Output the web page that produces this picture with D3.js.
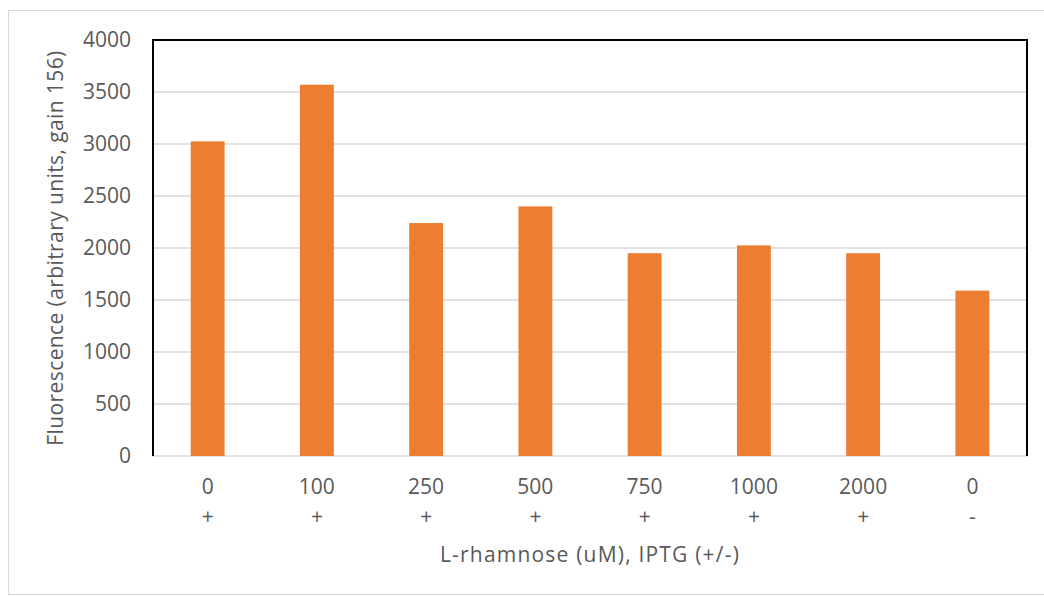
<!DOCTYPE html>
<html>
<head>
<meta charset="utf-8">
<script src="https://cdn.jsdelivr.net/npm/d3@7"></script>
<style>
  html, body { margin: 0; padding: 0; background: #fff; }
  svg text { font-family: "Open Sans", "Liberation Sans", sans-serif; fill: #595959; }
</style>
</head>
<body>
<svg id="chart" width="1044" height="596"></svg>
<script>
// Rhamnose concentration (uM) and IPTG presence for each culture
const rhamnose = ["0", "100", "250", "500", "750", "1000", "2000", "0"];
const iptg = ["+", "+", "+", "+", "+", "+", "+", "-"];
const fluorescence = [3025, 3570, 2240, 2400, 1950, 2025, 1950, 1590];
const yTicks = [0, 500, 1000, 1500, 2000, 2500, 3000, 3500, 4000];

const categories = rhamnose.map((r, i) => i);

const svg = d3.select("#chart");
const plot = { left: 153, right: 1027, top: 40, bottom: 456 };

// Outer chart border
svg.append("rect")
  .attr("x", 8.5).attr("y", 10.5)
  .attr("width", 1044).attr("height", 584)
  .attr("fill", "none").attr("stroke", "#d9d9d9").attr("stroke-width", 1);

const x = d3.scaleBand()
  .domain(categories)
  .range([plot.left, plot.right])
  .paddingInner(0.69)
  .paddingOuter(0.345);

const y = d3.scaleLinear()
  .domain([0, 4000])
  .range([plot.bottom, plot.top]);

// Horizontal gridlines
svg.append("g")
  .selectAll("line")
  .data(yTicks)
  .join("line")
  .attr("x1", plot.left).attr("x2", plot.right)
  .attr("y1", d => y(d)).attr("y2", d => y(d))
  .attr("stroke", "#d9d9d9").attr("stroke-width", 1.5);

// Bars
svg.append("g")
  .selectAll("rect")
  .data(fluorescence)
  .join("rect")
  .attr("x", (d, i) => x(i))
  .attr("width", x.bandwidth())
  .attr("y", d => y(d))
  .attr("height", d => y(0) - y(d))
  .attr("fill", "#ed7d31");

// Plot frame: top, left and right in black
svg.append("path")
  .attr("d", `M${plot.left},${plot.bottom} V${plot.top} H${plot.right} V${plot.bottom}`)
  .attr("fill", "none").attr("stroke", "#000").attr("stroke-width", 2);

// Y axis tick labels
const yAxis = d3.axisLeft(y).tickValues(yTicks).tickFormat(d3.format("d"))
  .tickSize(0).tickPadding(22);
const gy = svg.append("g").attr("transform", `translate(${plot.left},0)`).call(yAxis);
gy.select(".domain").remove();
gy.selectAll("text").attr("font-size", 21).attr("fill", "#595959")
  .style("font-family", "'Open Sans', sans-serif");

// X axis: two-line category labels
const xAxis = d3.axisBottom(x).tickSize(0).tickFormat(() => "");
const gx = svg.append("g").attr("transform", `translate(0,${plot.bottom})`).call(xAxis);
gx.select(".domain").remove();
gx.selectAll(".tick").each(function(d) {
  const t = d3.select(this);
  t.append("text").attr("y", 38).attr("text-anchor", "middle")
    .attr("font-size", 21).text(rhamnose[d]);
  t.append("text").attr("y", 68).attr("text-anchor", "middle")
    .attr("font-size", 21).text(iptg[d]);
});

// Axis titles
svg.append("text")
  .attr("x", (plot.left + plot.right) / 2).attr("y", 562)
  .attr("text-anchor", "middle").attr("font-size", 21)
  .attr("letter-spacing", 1.2)
  .text("L-rhamnose (uM), IPTG (+/-)");

svg.append("text")
  .attr("transform", `translate(63,${(plot.top + plot.bottom) / 2}) rotate(-90)`)
  .attr("text-anchor", "middle").attr("font-size", 21)
  .attr("letter-spacing", 0.4)
  .text("Fluorescence (arbitrary units, gain 156)");
</script>
</body>
</html>
